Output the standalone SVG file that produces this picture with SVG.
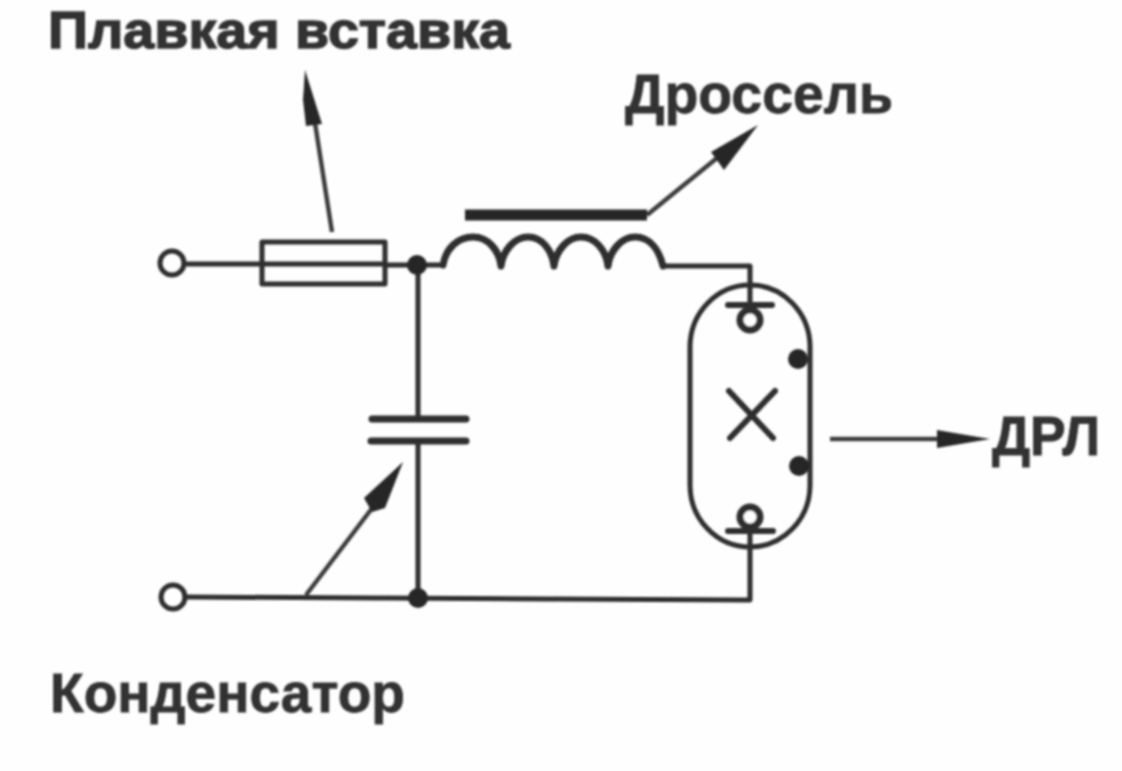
<svg xmlns="http://www.w3.org/2000/svg" width="1122" height="771" viewBox="0 0 1122 771">
<defs>
<style>
.w{fill:none;stroke:#2f2f2f;stroke-width:5;stroke-linecap:round;stroke-linejoin:round}
.c{stroke-width:7}
.t{fill:#333;font-family:"Liberation Sans",Arial,sans-serif;font-weight:700;font-size:56px;stroke:#333;stroke-width:0.8}
.d{fill:#262626}
.l{fill:none;stroke:#3c3c3c;stroke-width:4.5}
.h{fill:#262626;stroke:none}
</style>
<filter id="soft" x="-2%" y="-2%" width="104%" height="104%"><feGaussianBlur stdDeviation="0.8"/></filter>
</defs>
<rect width="1122" height="771" fill="#fefefe"/>
<g filter="url(#soft)">
<g id="connectors">
<path class="w" d="M185 264H262M385 265H443M418 265V419M418 441V598M185 597L750 600V531M663 266H750V305"/>
<g id="leader-fuse"><path class="l" d="M332 232L315 123"/><path class="h" d="M305 70L322 124L306 126L303 100Z"/></g>
<g id="leader-choke"><path class="l" d="M647 215L717 158"/><path class="h" d="M758 125L724 170L711 152Z"/></g>
<g id="leader-capacitor"><path class="l" d="M306 595L373 507"/><path class="h" d="M403 462L385 508L372 512L364 498Z"/></g>
<g id="leader-lamp"><path class="l" d="M830 439H937"/><path class="h" d="M990 439L937 430V448Z"/></g>
</g>
<g id="terminal-top"><circle class="w" cx="172" cy="263" r="12"/></g>
<g id="terminal-bottom"><circle class="w" cx="173" cy="597" r="12"/></g>
<g id="fuse"><rect class="w" x="262" y="242" width="123" height="42"/><path class="w" d="M262 264H385"/></g>
<g id="junction-top"><circle class="d" cx="417" cy="265" r="10"/></g>
<g id="junction-bottom"><circle class="d" cx="418" cy="598" r="10"/></g>
<g id="choke">
<path class="w c" d="M443 265C446 248 458 237 473 237C488 237 499 250 501 266C503 250 515 237 528 237C542 237 552 250 554 266C556 250 568 237 581 237C595 237 606 250 608 266C610 250 622 237 635 237C650 237 659 250 663 266"/>
<path d="M465 215H647" fill="none" stroke="#262626" stroke-width="11"/>
</g>
<g id="capacitor"><path class="w c" d="M372 419H466M371 441H466"/></g>
<g id="lamp">
<rect class="w" x="690" y="285" width="120" height="262" rx="60" ry="62"/>
<path class="w" style="stroke-width:6" d="M728 305H772M728 531H773M729 391L773 438M730 438L775 391"/>
<circle cx="750" cy="320" r="10" fill="#fefefe" stroke="#2f2f2f" stroke-width="7"/>
<circle cx="750" cy="517" r="10" fill="#fefefe" stroke="#2f2f2f" stroke-width="7"/>
<circle class="d" cx="798" cy="359" r="10"/>
<circle class="d" cx="799" cy="466" r="10"/>
</g>
<g id="label-fuse"><text class="t" x="48" y="48" style="font-size:52px;stroke-width:1.4" textLength="462" lengthAdjust="spacingAndGlyphs">Плавкая вставка</text></g>
<g id="label-choke"><text class="t" x="625" y="113" textLength="268" lengthAdjust="spacingAndGlyphs">Дроссель</text></g>
<g id="label-lamp"><text class="t" x="992" y="455" textLength="108" lengthAdjust="spacingAndGlyphs">ДРЛ</text></g>
<g id="label-capacitor"><text class="t" x="50" y="712" textLength="355" lengthAdjust="spacingAndGlyphs">Конденсатор</text></g>
</g>
</svg>
